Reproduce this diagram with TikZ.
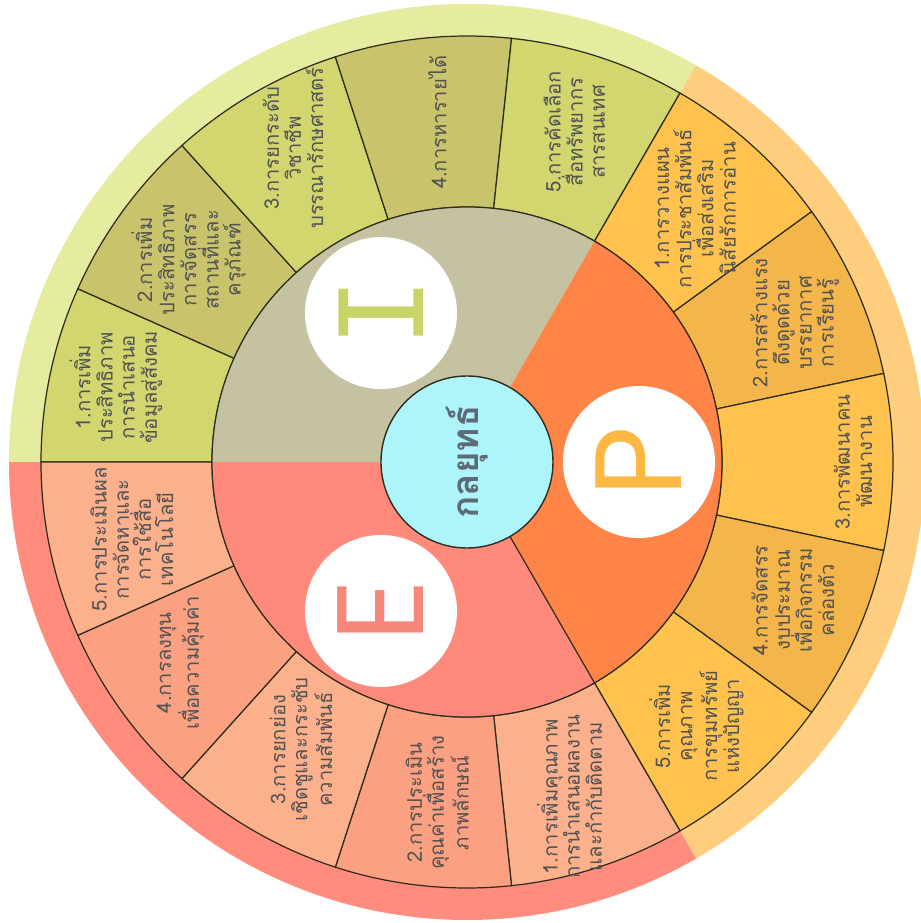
\documentclass[tikz,border=0pt]{standalone}
\usepackage{fontspec}
\newfontfamily\thaifont[Script=Thai]{Loma}
\newfontfamily\letterfont{Poppins}
\newfontfamily\slabfont{DejaVu Sans Mono}
\definecolor{bandI}{HTML}{E5ECA0}
\definecolor{bandP}{HTML}{FFCD7E}
\definecolor{bandE}{HTML}{FF8C7C}
\definecolor{segIa}{HTML}{D3D56F}
\definecolor{segIb}{HTML}{C9C46B}
\definecolor{segPa}{HTML}{FFC24E}
\definecolor{segPb}{HTML}{F4B54A}
\definecolor{segEa}{HTML}{FDB08C}
\definecolor{segEb}{HTML}{FBA080}
\definecolor{midI}{HTML}{C5C2A2}
\definecolor{midP}{HTML}{FF8448}
\definecolor{midE}{HTML}{FF8A7B}
\definecolor{corefill}{HTML}{ADF5FA}
\definecolor{coretext}{HTML}{5D6B78}
\definecolor{letI}{HTML}{C8D468}
\definecolor{letP}{HTML}{FDB844}
\definecolor{letE}{HTML}{F7877A}
\definecolor{segtext}{HTML}{505253}
\definecolor{edgeline}{HTML}{2E2E1E}
\begin{document}
\begin{tikzpicture}[
        seg line/.style={draw=edgeline, line width=0.7pt},
        seg text/.style={rotate=90, align=center, text=segtext, font=\thaifont\fontsize{11.5}{12.6}\selectfont},
        badge/.style={circle, fill=white, minimum size=3.04cm, inner sep=0pt, rotate=90, font=\letterfont\fontsize{70}{70}\selectfont}
    ]
    \useasboundingbox (-9.34,-9.22) rectangle (9.08,9.24);
    % outer bands
    \fill[bandI] (0,0) -- (60:9.16) arc[start angle=60, end angle=180, radius=9.16] -- cycle;
    \fill[bandP] (0,0) -- (-60:9.16) arc[start angle=-60, end angle=60, radius=9.16] -- cycle;
    \fill[bandE] (0,0) -- (180:9.16) arc[start angle=180, end angle=300, radius=9.16] -- cycle;
    % ring of fifteen segments
    \foreach \a/\c in {180/segIa,156/segIb,132/segIa,108/segIb,84/segIa,
                       60/segPa,36/segPb,12/segPa,-12/segPb,-36/segPa,
                       -60/segEa,-84/segEb,-108/segEa,-132/segEb,-156/segEa}
        \filldraw[seg line, fill=\c] (\a:5.1) arc[start angle=\a, end angle=\a-24, radius=5.1]
            -- ({\a-24}:8.52) arc[start angle=\a-24, end angle=\a, radius=8.52] -- cycle;
    % middle sectors
    \fill[midI] (0,0) -- (60:5.1) arc[start angle=60, end angle=180, radius=5.1] -- cycle;
    \fill[midP] (0,0) -- (-60:5.1) arc[start angle=-60, end angle=60, radius=5.1] -- cycle;
    \fill[midE] (0,0) -- (180:5.1) arc[start angle=180, end angle=300, radius=5.1] -- cycle;
    \draw[seg line] (0,0) circle[radius=5.1];
    \draw[seg line] (0,0) -- (-60:5.1);

    \node (i1) [seg text] at (168:7.18) {1.การเพิ่ม\\ประสิทธิภาพ\\การนำเสนอ\\ข้อมูลสู่สังคม};
    \node (i2) [seg text] at (144:6.88) {2.การเพิ่ม\\ประสิทธิภาพ\\การจัดสรร\\สถานที่และ\\ครุภัณฑ์};
    \node (i3) [seg text] at (119:7.18) {3.การยกระดับ\\วิชาชีพ\\บรรณารักษศาสตร์};
    \node (i4) [seg text] at (95:6.82) {4.การหารายได้};
    \node (i5) [seg text] at (72:6.94) {5.การคัดเลือก\\สื่อทรัพยากร\\สารสนเทศ};
    \node (p1) [seg text] at (48:6.82) {1.การวางแผน\\การประชาสัมพันธ์\\เพื่อส่งเสริม\\นิสัยรักการอ่าน};
    \node (p2) [seg text] at (23:7.12) {2.การสร้างแรง\\ดึงดูดด้วย\\บรรยากาศ\\การเรียนรู้};
    \node (p3) [seg text] at (0:7.72) {3.การพัฒนาคน\\พัฒนางาน};
    \node (p4) [seg text] at (-23:7.08) {4.การจัดสรร\\งบประมาณ\\เพื่อกิจกรรม\\คล่องตัว};
    \node (p5) [seg text] at (-49:7.0) {5.การเพิ่ม\\คุณภาพ\\การขุมทรัพย์\\แห่งปัญญา};
    \node (e1) [seg text] at (-73:7.0) {1.การเพิ่มคุณภาพ\\การนำเสนอผลงาน\\และกำกับติดตาม};
    \node (e2) [seg text] at (-95:6.84) {2.การประเมิน\\คุณค่าเพื่อสร้าง\\ภาพลักษณ์};
    \node (e3) [seg text] at (-120:6.64) {3.การยกย่อง\\เชิดชูและกระชับ\\ความสัมพันธ์};
    \node (e4) [seg text] at (-145:7.0) {4.การลงทุน\\เพื่อความคุ้มค่า};
    \node (e5) [seg text] at (-167:6.88) {5.การประเมินผล\\การจัดหาและ\\การใช้สื่อ\\เทคโนโลยี};

    \node (badgeI) [badge, text=letI, font=\slabfont\fontsize{66}{66}\selectfont] at (120:3.44) {I};
    \node (badgeP) [badge, text=letP] at (0:3.44) {P};
    \node (badgeE) [badge, text=letE] at (240:3.44) {E};

    \node (core) [circle, draw=edgeline, line width=0.8pt, fill=corefill, minimum size=3.44cm,
        rotate=90, text=coretext, font=\thaifont\bfseries\fontsize{21}{21}\selectfont] at (0,0) {กลยุทธ์};
\end{tikzpicture}
\end{document}
